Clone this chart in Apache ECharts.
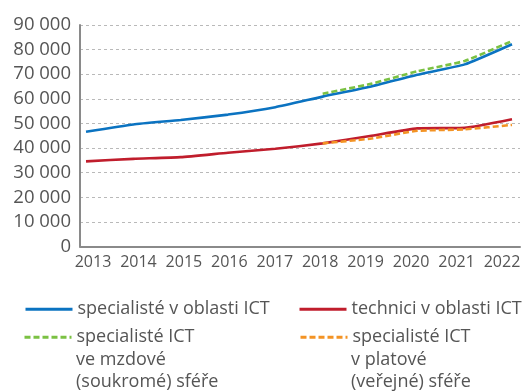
<!DOCTYPE html>
<html>
<head>
<meta charset="utf-8">
<script src="https://cdn.jsdelivr.net/npm/echarts@6/dist/echarts.min.js"></script>
<style>
  html, body { margin: 0; padding: 0; background: #fff; }
  #chart { width: 524px; height: 391px; }
</style>
</head>
<body>
<div id="chart"></div>
<script>
// Years shown on the horizontal axis
const years = [2013, 2014, 2015, 2016, 2017, 2018, 2019, 2020, 2021, 2022];

// Average monthly wages (CZK)
const specialistsICT = [46600, 49600, 51400, 53600, 56600, 60900, 64900, 69800, 74000, 82200];
const techniciansICT = [34600, 35600, 36300, 38100, 39700, 41900, 44900, 48000, 48200, 51700];
const specialistsPrivate = [null, null, null, null, null, 62100, 66000, 71200, 75400, 83500];
const specialistsPublic = [null, null, null, null, null, 41900, 43800, 47000, 47600, 49400];

// Value-axis ticks
const yTicks = [0, 10000, 20000, 30000, 40000, 50000, 60000, 70000, 80000, 90000];

// Legend captions (one list of lines per series)
const legendLines = [
  ['specialisté v oblasti ICT'],
  ['technici v oblasti ICT'],
  ['specialisté ICT', 've mzdové', '(soukromé) sféře'],
  ['specialisté ICT', 'v platové', '(veřejné) sféře']
];

const colors = ['#0b73c1', '#c01d2c', '#7bc143', '#f39324'];
const dashPattern = [6, 3];

const font = '"Open Sans", "Noto Sans", sans-serif';
const textColor = '#555555';
const legendFontSize = 18;
const legendLineHeight = 22.5;

function pairs(vals) {
  return years.map((y, i) => [y, vals[i]]);
}

function fmt(v) {
  return String(v).replace(/\B(?=(\d{3})+(?!\d))/g, ' ');
}

function seriesName(i) {
  return legendLines[i][0] + (i >= 2 ? ' ' + i : '');
}

const chart = echarts.init(document.getElementById('chart'), null, { renderer: 'canvas' });

function lineSeries(i, vals, dashed) {
  return {
    name: seriesName(i),
    type: 'line',
    xAxisIndex: 0,
    data: pairs(vals),
    symbol: 'none',
    smooth: 0.15,
    connectNulls: false,
    lineStyle: {
      color: colors[i],
      width: 2.6,
      type: dashed ? dashPattern : 'solid'
    },
    itemStyle: { color: colors[i] },
    emphasis: { disabled: true },
    z: 2 + i
  };
}

// one legend block per series; the first caption line sits next to the key
function legendAt(i, left, top, dashed) {
  return {
    data: [seriesName(i)],
    left: left,
    top: top,
    padding: 0,
    itemWidth: 47,
    itemHeight: 14,
    itemGap: 0,
    selectedMode: false,
    formatter: () => legendLines[i][0],
    itemStyle: { opacity: 0 },
    lineStyle: {
      color: colors[i],
      width: 3,
      type: dashed ? dashPattern : 'solid'
    },
    textStyle: {
      fontFamily: font,
      fontSize: legendFontSize,
      color: textColor,
      lineHeight: legendLineHeight
    }
  };
}

// remaining caption lines below the first one
function captionRest(i, x, firstY) {
  return legendLines[i].slice(1).map((line, k) => ({
    type: 'text',
    left: x,
    top: firstY + legendLineHeight * (k + 1) - legendLineHeight / 2,
    style: {
      text: line,
      fontFamily: font,
      fontSize: legendFontSize,
      fill: textColor,
      lineHeight: legendLineHeight
    },
    silent: true
  }));
}

const option = {
  animation: false,
  backgroundColor: '#ffffff',
  grid: { left: 80, right: 4, top: 25, bottom: 144.5 },
  xAxis: [
    {
      // data axis: carries the series, draws the base line
      type: 'value',
      min: 2012.873,
      max: 2022.169,
      axisLine: { show: true, lineStyle: { color: '#8a8a8a', width: 2 } },
      axisTick: { show: false },
      axisLabel: { show: false },
      splitLine: { show: false }
    },
    {
      // label axis: year captions along the bottom
      type: 'value',
      position: 'bottom',
      min: 2012.714,
      max: 2022.396,
      axisLine: { show: false },
      axisTick: { show: false },
      splitLine: { show: false },
      axisLabel: {
        customValues: years,
        formatter: v => String(Math.round(v)),
        margin: 8,
        fontFamily: font,
        fontSize: 16,
        color: textColor
      }
    }
  ],
  yAxis: {
    type: 'value',
    min: yTicks[0],
    max: yTicks[yTicks.length - 1],
    interval: yTicks[1] - yTicks[0],
    axisLine: { show: true, lineStyle: { color: '#8a8a8a', width: 2 } },
    axisTick: { show: false },
    axisLabel: {
      margin: 9,
      fontFamily: font,
      fontSize: 18.5,
      color: textColor,
      formatter: v => fmt(v)
    },
    splitLine: {
      show: true,
      lineStyle: { color: '#b9b9b9', width: 1, type: [3, 3] }
    }
  },
  legend: [
    legendAt(0, 24, 298, false),
    legendAt(1, 298, 298, false),
    legendAt(2, 23, 326, true),
    legendAt(3, 299, 326, true)
  ],
  graphic: [].concat(
    captionRest(2, 76, 337),
    captionRest(3, 351, 337)
  ),
  series: [
    lineSeries(0, specialistsICT, false),
    lineSeries(1, techniciansICT, false),
    lineSeries(2, specialistsPrivate, true),
    lineSeries(3, specialistsPublic, true)
  ]
};

chart.setOption(option);
</script>
</body>
</html>
